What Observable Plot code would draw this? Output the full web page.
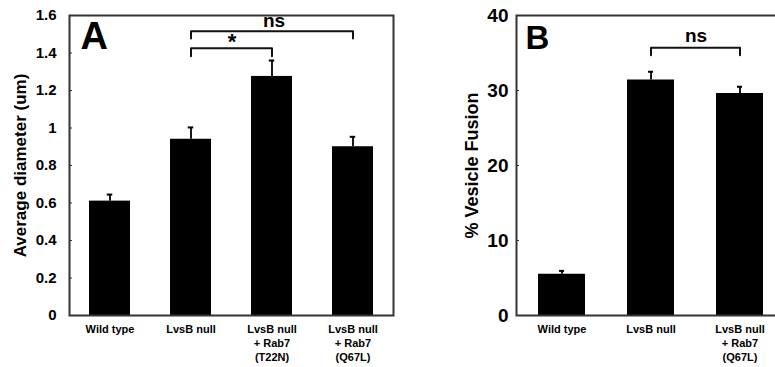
<!DOCTYPE html>
<html>
<head>
<meta charset="utf-8">
<script src="https://cdn.jsdelivr.net/npm/d3@7"></script>
<script src="https://cdn.jsdelivr.net/npm/@observablehq/plot@0.6"></script>
<style>
  html, body { margin: 0; padding: 0; background: #fff; overflow: hidden; }
  #wrap { position: relative; width: 775px; height: 367px; overflow: hidden; }
  #a, #b { position: absolute; top: 0; }
  #a { left: 0; width: 400px; }
  #b { left: 400px; width: 390px; }
  #wrap svg { max-width: none !important; display: block; }
</style>
</head>
<body>
<div id="wrap"><div id="a"></div><div id="b"></div></div>
<script>
const FONT = "Liberation Sans, Arial, Helvetica, sans-serif";

// Panel A: average diameter (um)
const catsA = ["WT", "NULL", "T22N", "Q67L"];
const labelsA = ["Wild type", "LvsB null", "LvsB null\n+ Rab7\n(T22N)", "LvsB null\n+ Rab7\n(Q67L)"];
const valuesA = [0.61, 0.94, 1.275, 0.90];
const errTopA = [0.645, 1.003, 1.36, 0.953];
const ticksA = [0, 0.2, 0.4, 0.6, 0.8, 1, 1.2, 1.4, 1.6];
// significance brackets A
const bracketFromA = ["NULL", "NULL"];
const bracketToA = ["Q67L", "T22N"];
const bracketTopA = [1.516, 1.426];
const bracketLegA = [1.477, 1.383];
const bracketTextA = ["ns", "*"];

// Panel B: % vesicle fusion
const catsB = ["WT", "NULL", "Q67L"];
const labelsB = ["Wild type", "LvsB null", "LvsB null\n+ Rab7\n(Q67L)"];
const valuesB = [5.5, 31.4, 29.6];
const errTopB = [5.95, 32.5, 30.5];
const ticksB = [0, 10, 20, 30, 40];
const bracketFromB = ["NULL"];
const bracketToB = ["Q67L"];
const bracketTopB = [35.7];
const bracketLegB = [34.7];
const bracketTextB = ["ns"];

function bracketPath(from, to, top, leg) {
  return from.map((f, i) => [
    {x: f, y: leg[i], id: i}, {x: f, y: top[i], id: i},
    {x: to[i], y: top[i], id: i}, {x: to[i], y: leg[i], id: i}
  ]).flat();
}

function plotA() {
  const bars = catsA.map((c, i) => ({c, v: valuesA[i], e: errTopA[i]}));
  const lab = new Map(catsA.map((c, i) => [c, labelsA[i]]));
  const brPts = bracketPath(bracketFromA, bracketToA, bracketTopA, bracketLegA);
  return Plot.plot({
    width: 400, height: 367,
    marginLeft: 69, marginRight: 7, marginTop: 15, marginBottom: 52,
    style: {fontFamily: FONT, background: "transparent", color: "#000"},
    x: {domain: catsA, paddingInner: 0.5, paddingOuter: 0.25, label: null},
    y: {domain: [0, 1.6], label: null},
    marks: [
      Plot.barY(bars, {x: "c", y: "v", fill: "#000"}),
      Plot.ruleX(bars, {x: "c", y1: "v", y2: "e", stroke: "#000", strokeWidth: 1.8}),
      Plot.tickY(bars, {x: "c", y: "e", stroke: "#000", strokeWidth: 2, inset: 17.75}),
      Plot.line(brPts, {x: "x", y: "y", z: "id", stroke: "#111", strokeWidth: 2}),
      Plot.text([0], {x: () => "T22N", y: () => bracketTopA[0], text: () => bracketTextA[0],
                      dx: 2, dy: -10, fontSize: 19, fontWeight: "bold"}),
      Plot.text([1], {x: () => "NULL", y: () => bracketTopA[1], text: () => bracketTextA[1],
                      dx: 41, dy: -6, fontSize: 22, fontWeight: "bold"}),
      Plot.frame({stroke: "#333", strokeWidth: 2}),
      Plot.axisY({ticks: ticksA, tickSize: -3, tickPadding: 16, tickFormat: d => String(+d.toFixed(1)),
                  fontSize: 15, fontWeight: "bold", label: null, stroke: "#333"}),
      Plot.axisX({tickSize: 0, tickPadding: 8, fontSize: 11, fontWeight: "bold",
                  lineHeight: 1.25, tickFormat: d => lab.get(d), label: null}),
      Plot.text(["Average diameter (um)"], {frameAnchor: "left", textAnchor: "middle", dx: -49,
                           rotate: -90, fontSize: 17, fontWeight: "bold", text: d => d}),
      Plot.text(["A"], {frameAnchor: "top-left", dx: 11, dy: 7, fontSize: 38,
                        fontWeight: "bold", textAnchor: "start", lineAnchor: "top", text: d => d})
    ]
  });
}

function plotB() {
  const bars = catsB.map((c, i) => ({c, v: valuesB[i], e: errTopB[i]}));
  const lab = new Map(catsB.map((c, i) => [c, labelsB[i]]));
  const brPts = bracketPath(bracketFromB, bracketToB, bracketTopB, bracketLegB);
  return Plot.plot({
    width: 390, height: 367,
    marginLeft: 116, marginRight: 5.5, marginTop: 15, marginBottom: 52,
    style: {fontFamily: FONT, background: "transparent", color: "#000"},
    x: {domain: catsB, paddingInner: 0.475, paddingOuter: 0.2375, label: null},
    y: {domain: [0, 40], label: null},
    marks: [
      Plot.barY(bars, {x: "c", y: "v", fill: "#000"}),
      Plot.ruleX(bars, {x: "c", y1: "v", y2: "e", stroke: "#000", strokeWidth: 1.8}),
      Plot.tickY(bars, {x: "c", y: "e", stroke: "#000", strokeWidth: 2, inset: 21}),
      Plot.line(brPts, {x: "x", y: "y", z: "id", stroke: "#111", strokeWidth: 2}),
      Plot.text([0], {x: () => "NULL", y: () => bracketTopB[0], text: () => bracketTextB[0],
                      dx: 45, dy: -12, fontSize: 19, fontWeight: "bold"}),
      Plot.frame({stroke: "#333", strokeWidth: 2}),
      Plot.axisY({ticks: ticksB, tickSize: -3, tickPadding: 11, fontSize: 19, fontWeight: "bold",
                  label: null, stroke: "#333"}),
      Plot.axisX({tickSize: 0, tickPadding: 8, fontSize: 11, fontWeight: "bold",
                  lineHeight: 1.25, tickFormat: d => lab.get(d), label: null}),
      Plot.text(["% Vesicle Fusion"], {frameAnchor: "left", textAnchor: "middle", dx: -44,
                           rotate: -90, fontSize: 18, fontWeight: "bold", text: d => d}),
      Plot.text(["B"], {frameAnchor: "top-left", dx: 9, dy: 10, fontSize: 33,
                        fontWeight: "bold", textAnchor: "start", lineAnchor: "top", text: d => d})
    ]
  });
}

document.getElementById("a").append(plotA());
document.getElementById("b").append(plotB());
</script>
</body>
</html>
